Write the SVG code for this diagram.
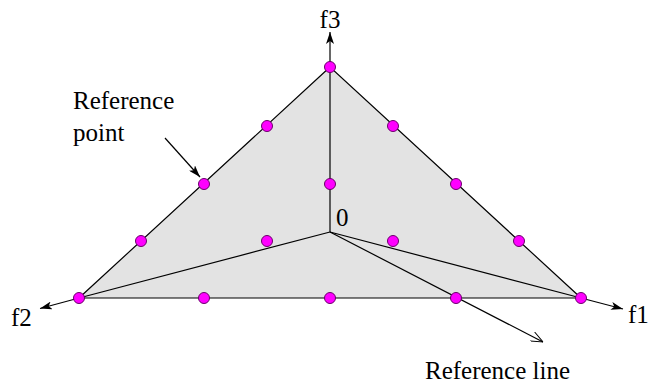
<svg xmlns="http://www.w3.org/2000/svg" width="650" height="383" viewBox="0 0 650 383">
<style>
.t{font-family:"Liberation Serif","Times New Roman",Times,serif;font-size:25px;fill:#000}
.ln{stroke:#000;stroke-width:1.2;fill:none}
.pt{fill:#ff00ff;stroke:#6a006a;stroke-width:1}
</style>
<defs>
<marker id="fa" viewBox="0 0 12 8" refX="12" refY="4" markerWidth="12" markerHeight="8" markerUnits="userSpaceOnUse" orient="auto">
<path d="M0,0 L12,4 L0,8 L3,4 Z" fill="#000"/>
</marker>
<marker id="oa" viewBox="0 0 12 10" refX="12" refY="5" markerWidth="12" markerHeight="10" markerUnits="userSpaceOnUse" orient="auto">
<path d="M0,0 L12,5 L0,10" fill="none" stroke="#000" stroke-width="1"/>
</marker>
</defs>
<g id="plane">
<polygon points="330,67 79,298 581,298" fill="#e3e3e3" stroke="#000" stroke-width="1.2"/>
</g>
<g id="connectors">
<line class="ln" x1="330" y1="67" x2="330" y2="232"/>
<line class="ln" x1="330" y1="232" x2="79" y2="298"/>
<line class="ln" x1="330" y1="232" x2="581" y2="298"/>
<line class="ln" x1="330" y1="67" x2="330" y2="32" marker-end="url(#fa)"/>
<line class="ln" x1="79" y1="298" x2="40" y2="308.5" marker-end="url(#fa)"/>
<line class="ln" x1="581" y1="298" x2="623" y2="309" marker-end="url(#fa)"/>
<line class="ln" x1="330" y1="232" x2="543" y2="342" stroke-width="1" marker-end="url(#oa)"/>
<line class="ln" x1="165" y1="138" x2="200" y2="177" marker-end="url(#fa)"/>
</g>
<g id="points">
<circle class="pt" cx="330" cy="67" r="5.5"/>
<circle class="pt" cx="267" cy="126" r="5.5"/>
<circle class="pt" cx="393" cy="126" r="5.5"/>
<circle class="pt" cx="204" cy="184" r="5.5"/>
<circle class="pt" cx="330" cy="184" r="5.5"/>
<circle class="pt" cx="456" cy="184" r="5.5"/>
<circle class="pt" cx="141" cy="241" r="5.5"/>
<circle class="pt" cx="267" cy="241" r="5.5"/>
<circle class="pt" cx="393" cy="241" r="5.5"/>
<circle class="pt" cx="519" cy="241" r="5.5"/>
<circle class="pt" cx="79" cy="298" r="5.5"/>
<circle class="pt" cx="204" cy="298" r="5.5"/>
<circle class="pt" cx="330" cy="298" r="5.5"/>
<circle class="pt" cx="456" cy="298" r="5.5"/>
<circle class="pt" cx="581" cy="298" r="5.5"/>
</g>
<g id="labels">
<text class="t" x="330" y="28" text-anchor="middle">f3</text>
<text class="t" x="11" y="326">f2</text>
<text class="t" x="628" y="323">f1</text>
<text class="t" x="336" y="226">0</text>
<text class="t" x="73" y="109">Reference</text>
<text class="t" x="73" y="141">point</text>
<text class="t" x="425" y="379">Reference line</text>
</g>
</svg>
